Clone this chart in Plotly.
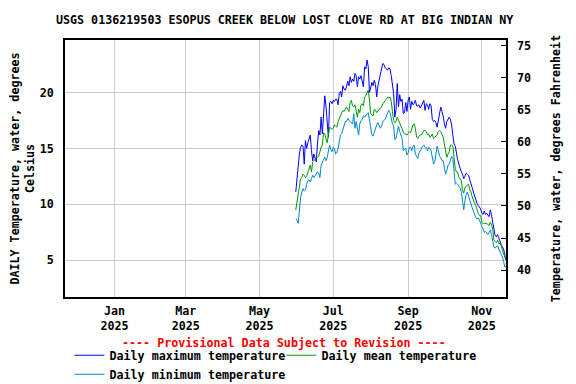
import pandas as pd
import plotly.graph_objects as go

TITLE = "USGS 0136219503 ESOPUS CREEK BELOW LOST CLOVE RD AT BIG INDIAN NY"
FIRST_DAY = "2025-05-31"

# daily values, degrees Celsius
daily_max = [
    11.1, 12.3, 13.9, 14.5, 15.1, 15.3, 15.2, 13.6, 15.7, 15.0,
    15.5, 16.0, 16.2, 14.8, 13.9, 14.5, 14.2, 13.8, 15.5, 16.6,
    16.2, 17.8, 16.3, 18.5, 19.7, 18.8, 17.0, 16.0, 19.1, 19.2,
    19.0, 19.3, 19.2, 19.4, 19.4, 18.9, 19.9, 20.1, 19.6, 20.6,
    20.3, 20.2, 20.5, 21.0, 20.6, 21.4, 20.9, 21.2, 21.0, 21.7,
    21.5, 20.5, 21.4, 21.2, 21.5, 20.9, 20.5, 22.3, 22.1, 22.9,
    22.3, 20.0, 20.5, 20.9, 20.6, 21.1, 20.7, 19.6, 20.6, 21.2,
    21.7, 22.1, 22.6, 22.5, 22.2, 22.1, 22.0, 22.2, 22.1, 21.5,
    20.8, 19.9, 17.8, 18.5, 20.8, 18.7, 19.8, 19.2, 19.4, 18.1,
    18.2, 19.1, 18.3, 19.3, 19.6, 18.5, 19.2, 18.9, 19.0, 19.3,
    18.8, 18.8, 18.9, 18.6, 18.8, 19.0, 19.3, 18.4, 19.0, 18.9,
    18.5, 19.0, 18.8, 17.6, 17.4, 17.5, 17.3, 16.9, 17.4, 18.2,
    18.7, 18.3, 17.9, 17.2, 16.8, 17.4, 17.7, 17.8, 17.6, 17.1,
    16.2, 15.4, 15.2, 14.5, 14.0, 13.6, 13.1, 12.9, 12.7, 12.3,
    12.5, 12.8, 12.7, 12.6, 12.2, 11.7, 11.5, 11.1, 10.7, 10.5,
    10.1, 9.9, 9.7, 9.6, 9.2, 9.1, 9.4, 9.1, 9.2, 9.0,
    8.9, 9.5, 9.1, 8.4, 7.7, 7.2, 7.1, 7.3, 7.0, 6.6,
    6.4, 6.2, 6.0, 5.5, 5.0,
]
daily_mean = [
    9.5, 10.3, 11.0, 11.6, 12.3, 12.4, 12.7, 12.6, 12.4, 12.5,
    12.9, 13.3, 13.5, 12.9, 13.8, 13.9, 14.0, 14.2, 14.2, 14.3,
    14.8, 15.1, 15.3, 16.4, 16.3, 15.9, 15.5, 16.2, 16.9, 16.8,
    16.7, 16.8, 17.1, 17.0, 16.9, 17.4, 17.6, 17.9, 18.2, 18.4,
    18.3, 18.5, 18.7, 18.5, 18.3, 19.1, 19.3, 18.8, 18.7, 18.9,
    18.3, 17.8, 18.5, 18.2, 18.9, 19.0, 18.8, 19.6, 19.7, 19.9,
    20.2, 19.3, 18.1, 18.0, 17.9, 18.5, 18.4, 18.2, 18.4, 18.5,
    18.6, 18.7, 19.0, 19.1, 19.3, 19.4, 19.6, 19.5, 19.6, 19.2,
    18.3, 17.5, 17.3, 17.4, 17.8, 17.5, 17.1, 17.0, 16.8, 16.4,
    16.3, 16.3, 16.2, 16.4, 16.5, 16.4, 16.8, 17.1, 17.2, 16.8,
    16.0, 15.9, 16.1, 16.2, 16.2, 16.4, 16.6, 16.6, 16.5, 16.2,
    16.3, 16.0, 16.1, 16.3, 15.9, 16.0, 16.1, 16.2, 16.5, 16.6,
    16.5, 16.3, 16.0, 15.4, 14.6, 14.2, 14.5, 14.7, 15.3, 15.3,
    15.2, 13.9, 13.2, 12.9, 12.9, 12.4, 12.3, 12.1, 11.3, 11.0,
    11.5, 11.6, 11.7, 11.8, 11.3, 11.1, 10.7, 10.3, 10.1, 9.9,
    9.5, 9.2, 9.0, 9.0, 8.4, 8.3, 8.3, 8.3, 8.3, 8.2,
    8.1, 8.4, 8.2, 7.8, 6.8, 6.7, 6.6, 6.8, 6.5, 6.5,
    6.3, 5.9, 5.6, 5.3, 5.0,
]
daily_min = [
    8.7, 8.6, 8.3, 9.8, 10.6, 11.1, 11.4, 11.2, 11.3, 11.8,
    12.1, 12.2, 12.0, 12.3, 12.6, 12.4, 12.6, 12.8, 12.9, 12.8,
    12.4, 13.5, 13.8, 14.0, 14.2, 13.9, 14.2, 14.8, 15.3, 14.9,
    14.7, 15.1, 15.0, 14.5, 14.6, 15.0, 15.8, 16.2, 16.3, 16.7,
    17.2, 17.4, 17.4, 17.7, 17.5, 17.4, 17.3, 17.2, 18.1, 16.8,
    17.4, 16.6, 16.2, 17.2, 17.5, 17.6, 17.9, 17.8, 18.0, 18.1,
    18.2, 17.6, 16.8, 16.2, 16.1, 16.4, 16.9, 17.1, 17.3, 17.0,
    16.8, 17.0, 17.4, 17.5, 17.6, 17.9, 18.1, 18.4, 18.2, 17.5,
    17.2, 17.0, 15.8, 15.9, 16.5, 17.0, 16.5, 16.1, 15.9, 14.8,
    14.9, 15.0, 14.4, 14.6, 15.1, 15.1, 14.8, 15.2, 15.3, 14.5,
    14.3, 14.1, 14.6, 14.8, 15.1, 15.2, 15.3, 15.1, 15.1, 14.8,
    15.1, 15.0, 14.8, 14.2, 13.6, 13.8, 14.6, 15.2, 14.8, 14.3,
    14.2, 13.9, 13.9, 13.3, 12.7, 13.0, 13.5, 13.6, 14.0, 14.3,
    14.1, 13.2, 11.8, 11.9, 11.8, 11.6, 11.5, 11.1, 10.4, 9.5,
    10.3, 10.9, 11.1, 10.7, 10.4, 10.0, 9.7, 9.4, 9.1, 8.8,
    8.7, 8.8, 8.6, 8.3, 8.0, 7.8, 7.5, 7.6, 7.4, 7.3,
    7.5, 7.7, 7.3, 6.6, 6.2, 6.1, 6.2, 6.3, 6.0, 5.8,
    5.5, 5.3, 4.9, 4.4, 4.4,
]

x_range = ["2024-11-21", "2025-11-21"]
tick_dates = ["2025-01-01", "2025-03-01", "2025-05-01", "2025-07-01", "2025-09-01", "2025-11-01"]
tick_text = ["Jan<br>2025", "Mar<br>2025", "May<br>2025", "Jul<br>2025", "Sep<br>2025", "Nov<br>2025"]
celsius_ticks = [5, 10, 15, 20]
fahrenheit_ticks = [40, 45, 50, 55, 60, 65, 70, 75]
c_range = [1.72, 24.69]
f_range = [35.8, 75.9]

FONT = dict(family="DejaVu Sans Mono", size=11.7, color="black", weight="bold")

days = pd.date_range(FIRST_DAY, periods=len(daily_max), freq="D")

fig = go.Figure()
fig.add_trace(go.Scatter(x=days, y=daily_max, mode="lines", name="Daily maximum temperature",
                         line=dict(color="#0000ff", width=1)))
fig.add_trace(go.Scatter(x=days, y=daily_mean, mode="lines", name="Daily mean temperature",
                         line=dict(color="#009900", width=1)))
fig.add_trace(go.Scatter(x=days, y=daily_min, mode="lines", name="Daily minimum temperature",
                         line=dict(color="#0088cc", width=1)))
# invisible trace to carry the Fahrenheit axis
fig.add_trace(go.Scatter(x=[days[0]], y=[daily_mean[0] * 1.8 + 32], yaxis="y2",
                         mode="lines", showlegend=False, hoverinfo="skip",
                         line=dict(width=0), opacity=0))

# the page body adds an 8px margin, so the figure is drawn 8px smaller
fig.update_layout(
    width=568, height=376,
    margin=dict(l=57, r=70, t=32, b=87, autoexpand=False),
    paper_bgcolor="white", plot_bgcolor="white",
    font=FONT,
    title=dict(text=TITLE, x=0.487, xanchor="center", y=0.968, yanchor="middle", font=FONT),
    xaxis=dict(
        type="date", range=x_range, tickvals=tick_dates, ticktext=tick_text,
        showgrid=True, gridcolor="#cccccc", gridwidth=1, ticks="",
        showline=True, linecolor="black", linewidth=1.5, mirror=True,
        tickfont=FONT, zeroline=False, automargin=False, ticklabelstandoff=2,
    ),
    yaxis=dict(
        range=c_range, tickvals=celsius_ticks, showgrid=True, gridcolor="#cccccc",
        gridwidth=1, ticks="", showline=True, linecolor="black", linewidth=1.5,
        title=dict(text="DAILY Temperature, water, degrees<br>Celsius", font=FONT, standoff=5),
        tickfont=FONT, zeroline=False, automargin=False, ticklabelstandoff=7,
    ),
    yaxis2=dict(
        overlaying="y", side="right", range=f_range,
        tickvals=fahrenheit_ticks, showgrid=False, ticks="inside", ticklen=5,
        tickcolor="black", showline=True, linecolor="black", linewidth=1.5,
        title=dict(text="Temperature, water, degrees Fahrenheit", font=FONT, standoff=22),
        tickfont=FONT, zeroline=False, automargin=False, ticklabelstandoff=7,
    ),
    legend=dict(
        orientation="h", x=0.010, xanchor="left", yref="container", y=0.115, yanchor="top",
        font=FONT, bgcolor="rgba(0,0,0,0)", entrywidth=167, tracegroupgap=0,
        itemwidth=30,
    ),
    annotations=[dict(
        text="---- Provisional Data Subject to Revision ----",
        xref="paper", yref="paper", x=0.497, y=-0.179, yanchor="middle", showarrow=False,
        font=dict(family="DejaVu Sans Mono", size=11.7, color="red", weight="bold"),
    )],
    showlegend=True,
)

fig.write_html("out.html")
